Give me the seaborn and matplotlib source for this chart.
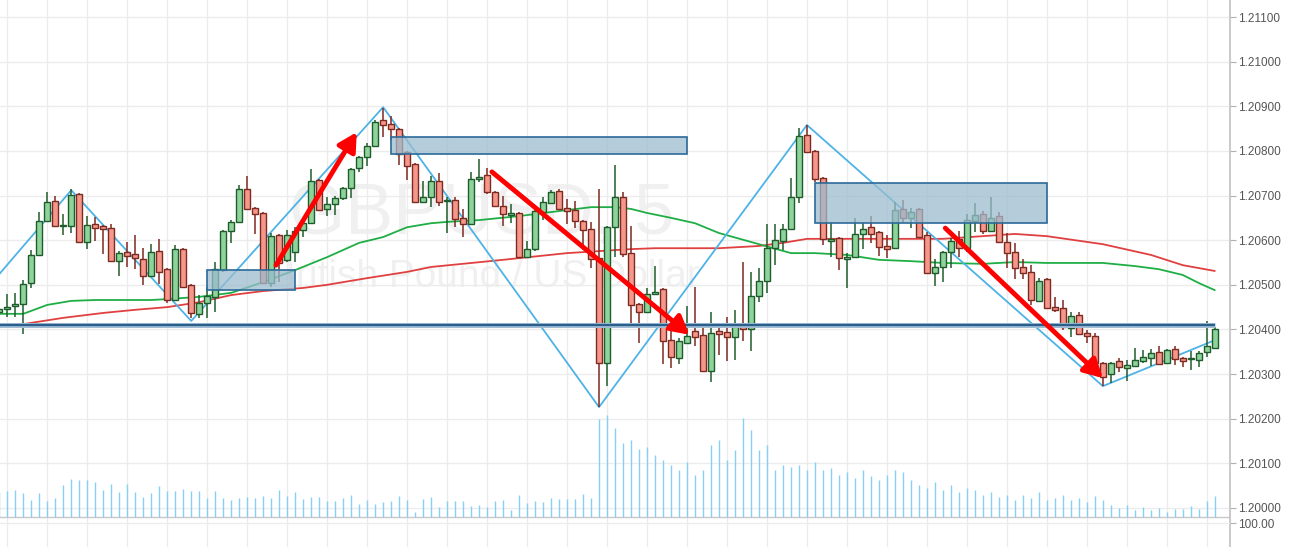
import matplotlib
matplotlib.use("Agg")
import matplotlib.pyplot as plt
from matplotlib.patches import Rectangle
from matplotlib.ticker import FormatStrFormatter
import seaborn as sns
import numpy as np

# GBPUSD 5 min candles
opens = [1.20439, 1.20446, 1.20452, 1.20457, 1.20504, 1.20567, 1.20643, 1.20688, 1.20631, 1.20632,
         1.20703, 1.20596, 1.20636, 1.20632, 1.20627, 1.20553, 1.20573, 1.20569, 1.20558, 1.20520,
         1.20576, 1.20535, 1.20466, 1.20580, 1.20500, 1.20435, 1.20459, 1.20473, 1.20533, 1.20621,
         1.20641, 1.20714, 1.20672, 1.20661, 1.20504, 1.20611, 1.20556, 1.20573, 1.20623, 1.20638,
         1.20735, 1.20670, 1.20681, 1.20694, 1.20717, 1.20762, 1.20786, 1.20811, 1.20869, 1.20860,
         1.20849, 1.20797, 1.20771, 1.20685, 1.20697, 1.20732, 1.20687, 1.20690, 1.20650, 1.20636,
         1.20737, 1.20746, 1.20708, 1.20676, 1.20657, 1.20661, 1.20562, 1.20580, 1.20663, 1.20683,
         1.20710, 1.20672, 1.20668, 1.20643, 1.20625, 1.20560, 1.20325, 1.20629, 1.20697, 1.20571,
         1.20457, 1.20439, 1.20479, 1.20491, 1.20376, 1.20336, 1.20370, 1.20397, 1.20388, 1.20307,
         1.20397, 1.20394, 1.20383, 1.20408, 1.20401, 1.20475, 1.20509, 1.20582, 1.20598, 1.20625,
         1.20697, 1.20836, 1.20800, 1.20739, 1.20598, 1.20605, 1.20558, 1.20562, 1.20614, 1.20629,
         1.20618, 1.20587, 1.20582, 1.20670, 1.20650, 1.20670, 1.20611, 1.20526, 1.20540, 1.20573,
         1.20603, 1.20582, 1.20643, 1.20659, 1.20621, 1.20654, 1.20596, 1.20573, 1.20540, 1.20529,
         1.20464, 1.20513, 1.20450, 1.20448, 1.20403, 1.20432, 1.20392, 1.20385, 1.20325, 1.20300,
         1.20329, 1.20314, 1.20318, 1.20329, 1.20336, 1.20349, 1.20325, 1.20356, 1.20336, 1.20333,
         1.20332, 1.20349, 1.20358]
highs = [1.20452, 1.20479, 1.20482, 1.20511, 1.20578, 1.20663, 1.20708, 1.20699, 1.20659, 1.20714,
         1.20706, 1.20654, 1.20652, 1.20634, 1.20636, 1.20576, 1.20596, 1.20611, 1.20582, 1.20591,
         1.20603, 1.20538, 1.20589, 1.20582, 1.20502, 1.20477, 1.20495, 1.20551, 1.20623, 1.20645,
         1.20724, 1.20744, 1.20674, 1.20663, 1.20616, 1.20614, 1.20623, 1.20629, 1.20650, 1.20759,
         1.20737, 1.20697, 1.20699, 1.20719, 1.20762, 1.20789, 1.20818, 1.20869, 1.20896, 1.20878,
         1.20851, 1.20800, 1.20773, 1.20732, 1.20744, 1.20750, 1.20697, 1.20697, 1.20670, 1.20753,
         1.20782, 1.20762, 1.20710, 1.20699, 1.20681, 1.20663, 1.20598, 1.20668, 1.20697, 1.20712,
         1.20714, 1.20692, 1.20688, 1.20645, 1.20641, 1.20714, 1.20632, 1.20768, 1.20708, 1.20632,
         1.20459, 1.20493, 1.20542, 1.20493, 1.20414, 1.20381, 1.20452, 1.20495, 1.20403, 1.20439,
         1.20405, 1.20428, 1.20444, 1.20551, 1.20529, 1.20538, 1.20636, 1.20636, 1.20636, 1.20739,
         1.20851, 1.20858, 1.20802, 1.20741, 1.20638, 1.20607, 1.20571, 1.20650, 1.20638, 1.20654,
         1.20620, 1.20611, 1.20685, 1.20690, 1.20672, 1.20672, 1.20618, 1.20558, 1.20576, 1.20605,
         1.20620, 1.20659, 1.20683, 1.20665, 1.20697, 1.20663, 1.20616, 1.20594, 1.20558, 1.20544,
         1.20515, 1.20515, 1.20473, 1.20466, 1.20439, 1.20439, 1.20399, 1.20392, 1.20327, 1.20327,
         1.20336, 1.20332, 1.20358, 1.20354, 1.20356, 1.20363, 1.20356, 1.20363, 1.20338, 1.20352,
         1.20352, 1.20419, 1.20405]
lows = [1.20435, 1.20428, 1.20428, 1.20390, 1.20493, 1.20564, 1.20641, 1.20629, 1.20611, 1.20616,
        1.20594, 1.20580, 1.20598, 1.20569, 1.20551, 1.20520, 1.20540, 1.20535, 1.20500, 1.20517,
        1.20502, 1.20459, 1.20464, 1.20493, 1.20426, 1.20426, 1.20426, 1.20439, 1.20529, 1.20594,
        1.20638, 1.20668, 1.20614, 1.20502, 1.20495, 1.20506, 1.20551, 1.20551, 1.20607, 1.20636,
        1.20665, 1.20654, 1.20656, 1.20690, 1.20694, 1.20753, 1.20766, 1.20809, 1.20831, 1.20824,
        1.20768, 1.20735, 1.20683, 1.20683, 1.20674, 1.20676, 1.20616, 1.20629, 1.20607, 1.20634,
        1.20730, 1.20703, 1.20674, 1.20632, 1.20638, 1.20560, 1.20560, 1.20576, 1.20645, 1.20681,
        1.20668, 1.20636, 1.20627, 1.20578, 1.20538, 1.20226, 1.20273, 1.20562, 1.20562, 1.20414,
        1.20370, 1.20437, 1.20477, 1.20323, 1.20314, 1.20323, 1.20367, 1.20363, 1.20305, 1.20282,
        1.20343, 1.20329, 1.20332, 1.20374, 1.20352, 1.20461, 1.20482, 1.20544, 1.20578, 1.20623,
        1.20683, 1.20795, 1.20730, 1.20589, 1.20562, 1.20533, 1.20493, 1.20560, 1.20580, 1.20594,
        1.20564, 1.20560, 1.20580, 1.20641, 1.20627, 1.20605, 1.20524, 1.20497, 1.20506, 1.20538,
        1.20562, 1.20573, 1.20618, 1.20614, 1.20618, 1.20594, 1.20538, 1.20513, 1.20513, 1.20455,
        1.20461, 1.20446, 1.20439, 1.20399, 1.20383, 1.20388, 1.20370, 1.20323, 1.20273, 1.20280,
        1.20305, 1.20285, 1.20318, 1.20325, 1.20318, 1.20320, 1.20323, 1.20320, 1.20316, 1.20309,
        1.20316, 1.20338, 1.20356]
closes = [1.20446, 1.20450, 1.20457, 1.20502, 1.20567, 1.20643, 1.20685, 1.20632, 1.20633, 1.20701,
          1.20596, 1.20634, 1.20627, 1.20625, 1.20553, 1.20571, 1.20564, 1.20560, 1.20520, 1.20573,
          1.20529, 1.20466, 1.20580, 1.20495, 1.20437, 1.20459, 1.20475, 1.20535, 1.20621, 1.20641,
          1.20714, 1.20670, 1.20659, 1.20504, 1.20609, 1.20549, 1.20611, 1.20621, 1.20638, 1.20732,
          1.20668, 1.20681, 1.20694, 1.20717, 1.20759, 1.20786, 1.20811, 1.20865, 1.20858, 1.20849,
          1.20793, 1.20766, 1.20685, 1.20697, 1.20732, 1.20685, 1.20689, 1.20647, 1.20636, 1.20737,
          1.20741, 1.20708, 1.20676, 1.20659, 1.20660, 1.20562, 1.20580, 1.20665, 1.20685, 1.20708,
          1.20670, 1.20665, 1.20643, 1.20623, 1.20558, 1.20325, 1.20629, 1.20697, 1.20569, 1.20455,
          1.20439, 1.20479, 1.20484, 1.20374, 1.20338, 1.20374, 1.20385, 1.20383, 1.20307, 1.20392,
          1.20390, 1.20383, 1.20408, 1.20401, 1.20475, 1.20509, 1.20582, 1.20600, 1.20625, 1.20697,
          1.20833, 1.20797, 1.20737, 1.20603, 1.20603, 1.20560, 1.20562, 1.20614, 1.20625, 1.20614,
          1.20585, 1.20580, 1.20668, 1.20650, 1.20663, 1.20607, 1.20526, 1.20540, 1.20573, 1.20598,
          1.20582, 1.20645, 1.20656, 1.20621, 1.20650, 1.20596, 1.20571, 1.20538, 1.20526, 1.20466,
          1.20509, 1.20448, 1.20444, 1.20405, 1.20430, 1.20390, 1.20385, 1.20325, 1.20293, 1.20325,
          1.20316, 1.20320, 1.20332, 1.20338, 1.20347, 1.20323, 1.20354, 1.20334, 1.20329, 1.20335,
          1.20347, 1.20363, 1.20401]
volumes = [250, 257, 267, 243, 173, 243, 163, 193, 323, 383,
           373, 373, 353, 273, 333, 253, 333, 253, 203, 243,
           313, 263, 263, 283, 263, 263, 193, 263, 193, 173,
           193, 203, 193, 213, 193, 273, 213, 253, 183, 203,
           203, 163, 163, 193, 223, 133, 173, 133, 153, 163,
           213, 173, 53, 183, 203, 103, 163, 163, 163, 113,
           123, 103, 163, 173, 73, 223, 143, 163, 153, 193,
           183, 183, 183, 233, 193, 983, 1023, 893, 743, 773,
           683, 703, 620, 570, 520, 470, 550, 420, 470, 720,
           770, 570, 670, 990, 870, 670, 720, 470, 520, 500,
           520, 470, 550, 470, 490, 420, 450, 390, 470, 410,
           370, 420, 470, 450, 370, 320, 290, 350, 270, 320,
           250, 290, 270, 220, 250, 200, 220, 170, 220, 190,
           250, 170, 190, 220, 170, 190, 150, 210, 170, 120,
           90, 120, 70, 100, 70, 90, 50, 80, 80, 110,
           80, 160, 210]

# moving averages (sampled along the lines)
ma_fast_idx = [0, 3, 6, 9, 12, 19, 21, 25, 29, 33, 37, 41, 45, 48, 51, 54, 56, 60, 65, 69,
               74, 77, 79, 81, 84, 87, 90, 95, 99, 102, 106, 110, 114, 118, 123, 127, 131, 138,
               142, 145, 148, 150, 152]
ma_fast = [1.20435, 1.20435, 1.20455, 1.20464, 1.20466, 1.20466, 1.20468, 1.20473, 1.20482, 1.20506,
           1.20533, 1.20562, 1.20594, 1.20607, 1.20629, 1.20638, 1.20641, 1.20645, 1.20654, 1.20663,
           1.20674, 1.20674, 1.20670, 1.20661, 1.20650, 1.20638, 1.20616, 1.20591, 1.20571, 1.20571,
           1.20567, 1.20556, 1.20553, 1.20549, 1.20547, 1.20551, 1.20549, 1.20549, 1.20542, 1.20535,
           1.20522, 1.20504, 1.20488]
ma_slow_idx = [0, 3, 8, 13, 17, 21, 25, 29, 33, 38, 41, 46, 51, 54, 63, 71, 79, 82, 90, 95,
               98, 101, 110, 118, 123, 127, 131, 138, 144, 148, 152]
ma_slow = [1.20410, 1.20412, 1.20426, 1.20437, 1.20444, 1.20450, 1.20461, 1.20477, 1.20486, 1.20493,
           1.20500, 1.20515, 1.20529, 1.20540, 1.20556, 1.20571, 1.20580, 1.20582, 1.20582, 1.20587,
           1.20594, 1.20603, 1.20603, 1.20603, 1.20609, 1.20614, 1.20609, 1.20591, 1.20567, 1.20544,
           1.20531]

# zigzag swing points
zig_idx = [0, 9, 24, 48, 75, 101, 138, 152]
zig_price = [1.20524, 1.20712, 1.20419, 1.20898, 1.20226, 1.20858, 1.20273, 1.20376]

# drawn objects
level_price = 1.20409
zone_x0 = [26, 49, 102]
zone_x1 = [37, 86, 131]
zone_lo = [1.20488, 1.20793, 1.20638]
zone_hi = [1.20533, 1.20831, 1.20728]
arrow_x0 = [34.6, 61.6, 118.3]
arrow_y0 = [1.20544, 1.20753, 1.20627]
arrow_x1 = [44.7, 86.3, 138.0]
arrow_y1 = [1.20842, 1.20388, 1.20291]

price_ticks = [1.200, 1.201, 1.202, 1.203, 1.204, 1.205, 1.206, 1.207, 1.208, 1.209, 1.210, 1.211]

sns.set_theme(style="white")
plt.rcParams['font.family'] = ['Liberation Sans', 'DejaVu Sans']

idx = np.arange(len(opens))
o = np.array(opens)
h = np.array(highs)
l = np.array(lows)
c = np.array(closes)
up = c >= o

fig = plt.figure(figsize=(12.98, 5.47), dpi=100)
ax = fig.add_axes([0, 0, 1230 / 1298, 1])
ax.set_xlim(0.09, 153.9)
ax.set_ylim(1.199126, 1.211381)

# volume pane (same box, own scale)
axv = ax.twinx()
axv.set_ylim(-300, 5170)
axv.vlines(idx, 0, volumes, colors='#86d0f5', lw=1.0, zorder=2)
axv.axhline(0, color='#c8c8c8', lw=1, zorder=1)
axv.axhline(-60, color='#ececec', lw=1, zorder=0.5)
axv.set_yticks([-60])
axv.set_yticklabels(['100.00'])
axv.tick_params(axis='y', length=4, width=0.8, color='#b0b0b0', pad=2,
                labelsize=8.5, labelcolor='#555555')
for s in axv.spines.values():
    s.set_visible(False)
axv.grid(False)

# grid and price axis
ax.set_xticks(np.arange(1, 153, 5))
ax.set_yticks(price_ticks)
ax.yaxis.set_major_formatter(FormatStrFormatter('%.5f'))
ax.yaxis.tick_right()
ax.tick_params(axis='x', length=0, labelbottom=False)
ax.tick_params(axis='y', which='both', left=False, labelleft=False, right=True,
               labelright=True, length=4, width=0.8, color='#b0b0b0', pad=2,
               labelsize=8.5, labelcolor='#555555')
ax.grid(True, color='#ececec', lw=1)
ax.set_axisbelow(True)
for s in ['top', 'left', 'bottom']:
    ax.spines[s].set_visible(False)
ax.spines['right'].set_color('#c4c4c4')

# watermark
ax.text(0.392, 0.607, 'GBPUSD, 5', transform=ax.transAxes, ha='center', va='center',
        fontsize=52, color='#f0f0f0', zorder=0.2)
ax.text(0.394, 0.494, 'British Pound / US Dollar', transform=ax.transAxes, ha='center',
        va='center', fontsize=28, color='#f0f0f0', zorder=0.2)

# moving averages and zigzag
sns.lineplot(x=ma_slow_idx, y=ma_slow, ax=ax, color='#e04040', lw=1.3, zorder=2)
sns.lineplot(x=ma_fast_idx, y=ma_fast, ax=ax, color='#1fae45', lw=1.3, zorder=2)
sns.lineplot(x=zig_idx, y=zig_price, ax=ax, color='#4db3e6', lw=1.3, zorder=2.2)

# candles
green_fill, green_edge = '#8fd39c', '#1f5c2b'
red_fill, red_edge = '#f5978b', '#7d2a21'
edges = np.where(up, green_edge, red_edge)
fills = np.where(up, green_fill, red_fill)
ax.vlines(idx, l, h, colors=edges, lw=1.1, zorder=3)
body_lo = np.minimum(o, c)
body_h = np.maximum(np.abs(c - o), 0.000015)
ax.bar(idx, body_h, bottom=body_lo, width=0.72, color=fills, edgecolor=edges,
       linewidth=1.0, zorder=3.2)

# zones
for x0, x1, lo, hi in zip(zone_x0, zone_x1, zone_lo, zone_hi):
    ax.add_patch(Rectangle((x0, lo), x1 - x0, hi - lo, facecolor='#9cbccf', alpha=0.75,
                           edgecolor='none', zorder=4))
    ax.add_patch(Rectangle((x0, lo), x1 - x0, hi - lo, facecolor='none',
                           edgecolor='#2b6a99', lw=1.2, zorder=4.1))

# horizontal level
ax.plot([idx[0], idx[-1]], [level_price, level_price], color='#9fbcd4', lw=3.6, zorder=5,
        solid_capstyle='butt')
ax.plot([idx[0], idx[-1]], [level_price, level_price], color='#2a5f8c', lw=1.6, zorder=5.1,
        solid_capstyle='butt')

# red arrows
for x0, y0, x1, y1 in zip(arrow_x0, arrow_y0, arrow_x1, arrow_y1):
    ax.annotate('', xy=(x1, y1), xytext=(x0, y0),
                arrowprops=dict(arrowstyle='-|>,head_length=0.55,head_width=0.3',
                                color='#ff0000', lw=3.5, shrinkA=0, shrinkB=0,
                                mutation_scale=20),
                zorder=6)

fig.savefig('out.png', dpi=100)
